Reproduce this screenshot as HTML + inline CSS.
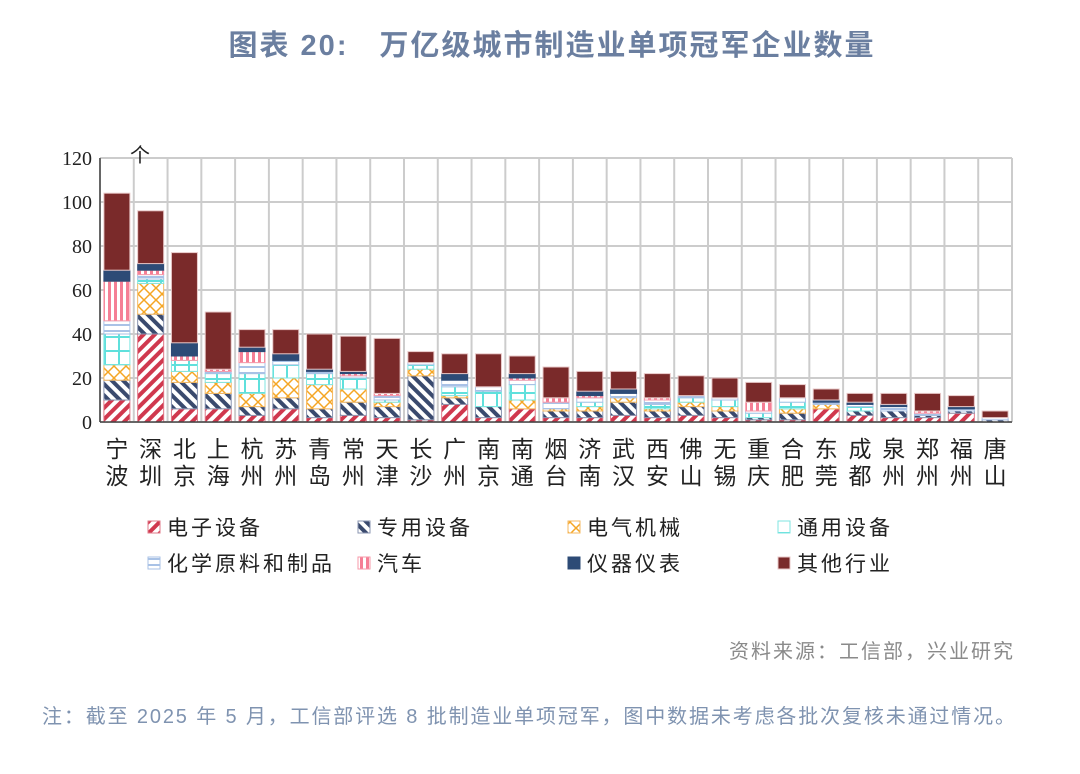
<!DOCTYPE html>
<html><head><meta charset="utf-8">
<style>
body{margin:0;background:#fff;width:1080px;height:769px;overflow:hidden;font-family:"Liberation Sans","Noto Sans CJK SC",sans-serif}
</style></head><body>
<svg id="chart" width="1080" height="769" xmlns="http://www.w3.org/2000/svg">
<defs>
<pattern id="p0" patternUnits="userSpaceOnUse" width="8" height="8" patternTransform="rotate(45)"><rect width="8" height="8" fill="#fff"/><rect width="4" height="8" fill="#d0384e"/></pattern>
<pattern id="p1" patternUnits="userSpaceOnUse" width="8" height="8" patternTransform="rotate(-45)"><rect width="8" height="8" fill="#fff"/><rect width="4" height="8" fill="#3a4a6e"/></pattern>
<pattern id="p2" patternUnits="userSpaceOnUse" width="12" height="12"><rect width="12" height="12" fill="#fff"/><path d="M0 0L12 12M12 0L0 12" stroke="#f5a623" stroke-width="1.5"/></pattern>
<pattern id="p3" patternUnits="userSpaceOnUse" width="14" height="14"><rect width="14" height="14" fill="#fff"/><path d="M0 1H14M7 0V14" stroke="#5fe0dc" stroke-width="2"/></pattern>
<pattern id="p4" patternUnits="userSpaceOnUse" width="6" height="6"><rect width="6" height="6" fill="#fff"/><rect y="0" width="6" height="2" fill="#a9c2e6"/></pattern>
<pattern id="p5" patternUnits="userSpaceOnUse" width="6" height="6"><rect width="6" height="6" fill="#fff"/><rect width="3" height="6" fill="#f57f95"/></pattern>
</defs>
<text x="552" y="55" text-anchor="middle" font-size="29" font-weight="bold" fill="#6b7fa0" letter-spacing="2">图表 20:　万亿级城市制造业单项冠军企业数量</text>
<g id="grid"></g><g id="bars"></g><g id="axes"></g><g id="legend"></g>
<text x="1015" y="658" text-anchor="end" font-size="20" fill="#8a8a8a" letter-spacing="2">资料来源：工信部，兴业研究</text>
<text x="42" y="723" font-size="20" fill="#7f93b0" textLength="973" lengthAdjust="spacing">注：截至 2025 年 5 月，工信部评选 8 批制造业单项冠军，图中数据未考虑各批次复核未通过情况。</text>
</svg>
<script>
const cities=["宁波","深圳","北京","上海","杭州","苏州","青岛","常州","天津","长沙","广州","南京","南通","烟台","济南","武汉","西安","佛山","无锡","重庆","合肥","东莞","成都","泉州","郑州","福州","唐山"];
const seriesNames=["电子设备","专用设备","电气机械","通用设备","化学原料和制品","汽车","仪器仪表","其他行业"];
const elec=[10,40,6,6,3,6,2,3,2,1,8,2,6,2,2,3,2,3,2,1,1,6,3,2,2,4,0];
const special=[9,9,12,7,4,5,4,6,5,20,3,5,0,3,3,6,3,4,3,1,3,0,2,3,1,1,1];
const elecMach=[7,14,5,5,6,9,11,6,2,3,1,0,4,1,2,2,1,2,2,0,2,2,0,0,0,0,0];
const general=[14,2,5,4,9,6,5,5,1,2,4,7,7,0,2,0,2,2,3,2,3,0,2,0,0,0,0];
const chem=[6,2,0,1,5,2,1,1,2,1,3,2,2,3,2,2,2,1,1,1,2,1,1,2,1,1,1];
const auto=[18,2,2,1,5,0,0,1,1,0,0,0,1,2,1,0,1,0,0,4,0,0,0,0,1,0,0];
const instr=[5,3,6,0,2,3,1,1,0,0,3,0,2,0,2,2,0,0,0,0,0,1,1,1,0,1,0];
const other=[35,24,41,26,8,11,16,16,25,5,9,15,8,14,9,8,11,9,9,9,6,5,4,5,8,5,3];
const yTicks=[0,20,40,60,80,100,120];
const series=[elec,special,elecMach,general,chem,auto,instr,other];
const fills=["url(#p0)","url(#p1)","url(#p2)","url(#p3)","url(#p4)","url(#p5)","#2d4b76","#7a2a2a"];
const strokes=["#e07888","#8a94b0","#f5b860","#7fe6e2","#a9c2e6","#f79aaa","#2d4b76","#e8c8c8"];
const L=100,R=1012,T=158,B=422,maxV=120;
const y=v=>B-(v/maxV)*(B-T);
const band=(R-L)/cities.length;
const xc=i=>L+band*(i+0.5);
const NS="http://www.w3.org/2000/svg";
function mk(t,a,p){const e=document.createElementNS(NS,t);for(const k in a)e.setAttribute(k,a[k]);p.appendChild(e);return e;}
const grid=document.getElementById('grid'),bars=document.getElementById('bars'),axes=document.getElementById('axes'),leg=document.getElementById('legend');
yTicks.forEach(v=>{
  const g=mk('line',{x1:L,x2:R,y1:y(v),y2:y(v),stroke:"#cccccc","stroke-width":2},grid);
  
  
  const t=mk('text',{x:L-8,y:y(v)+7,"text-anchor":"end","font-size":20,"font-family":"Liberation Serif, serif",fill:"#222"},axes);
  t.textContent=v;
  
  
});
for(let i=0;i<=cities.length;i++){
  const g=mk('line',{x1:L+band*i,x2:L+band*i,y1:T,y2:B,stroke:"#cccccc","stroke-width":2},grid);
  
  
}
const ax=mk('line',{x1:L,x2:R,y1:B,y2:B,stroke:"#444","stroke-width":1.5},axes);


const ay=mk('line',{x1:L,x2:L,y1:T,y2:B,stroke:"#444","stroke-width":1.5},axes);


const unit=mk('text',{x:140,y:162,"text-anchor":"middle","font-size":20,fill:"#222"},axes);
unit.textContent="个";


cities.forEach((c,i)=>{
  let acc=0;
  series.forEach((s,k)=>{
    const v=s[i]; if(!v){return;}
    const r=mk('rect',{x:xc(i)-13,y:y(acc+v),width:26,height:y(acc)-y(acc+v),fill:fills[k],stroke:strokes[k],"stroke-width":1},bars);
    
    
    acc+=v;
  });
  [0,1].forEach(j=>{
    const t=mk('text',{x:xc(i),y:457+j*27,"text-anchor":"middle","font-size":23,fill:"#222"},axes);
    t.textContent=c[j];
    
    
  });
});
const lx=[148,358,568,778],ly=[527,563];
seriesNames.forEach((n,k)=>{
  const cx=lx[k%4],cy=ly[Math.floor(k/4)];
  const r=mk('rect',{x:cx,y:cy-6,width:12,height:12,fill:fills[k],stroke:strokes[k]},leg);
  
  
  const t=mk('text',{x:cx+19,y:cy+8,"font-size":21,fill:"#222","letter-spacing":"3"},leg);
  t.textContent=n;
  
  
});
</script>
</body></html>
